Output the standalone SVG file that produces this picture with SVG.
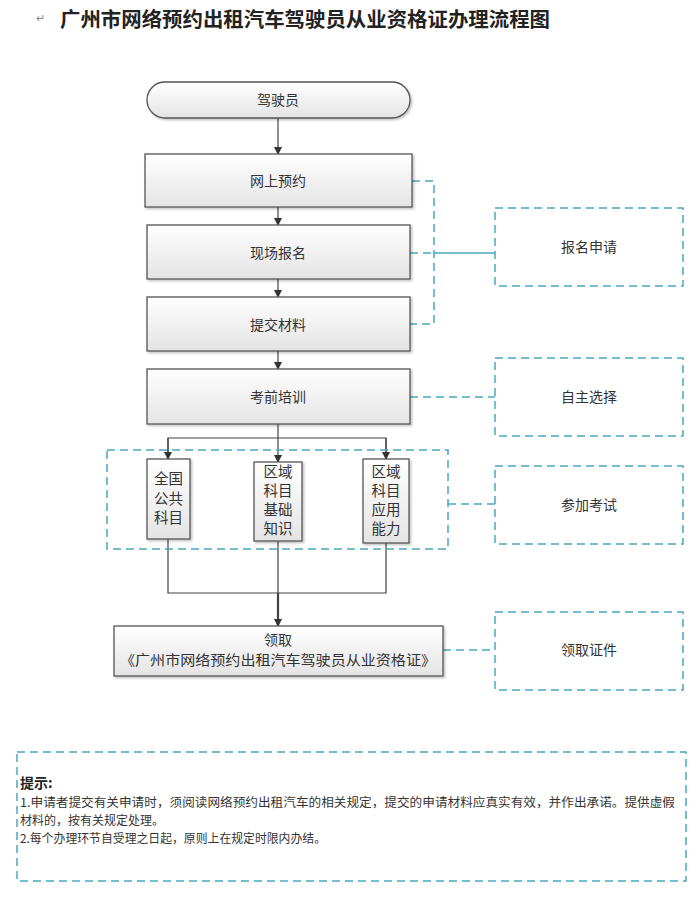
<svg xmlns="http://www.w3.org/2000/svg" width="700" height="900" viewBox="0 0 700 900">
<style>
.t{font-family:"Noto Sans CJK SC","Liberation Sans",sans-serif;fill:#333;}
.box{fill:url(#g);stroke:#555;stroke-width:1.3;filter:url(#sh);}
.dbox{fill:none;stroke:#4aa8c2;stroke-width:1.5;stroke-dasharray:8 5;}
.dl{fill:none;stroke:#4aa8c2;stroke-width:1.5;stroke-dasharray:8 5;}
.sl{fill:none;stroke:#4aa8c2;stroke-width:1.3;}
.ln{fill:none;stroke:#444;stroke-width:1.2;}
.ar{fill:none;stroke:#444;stroke-width:1.2;marker-end:url(#ah);}
</style>
<defs>
<linearGradient id="g" x1="0" y1="0" x2="0" y2="1">
<stop offset="0" stop-color="#ffffff"/>
<stop offset="1" stop-color="#e4e4e4"/>
</linearGradient>
<filter id="sh" x="-10%" y="-10%" width="125%" height="130%">
<feDropShadow dx="1.5" dy="1.5" stdDeviation="1" flood-color="#000" flood-opacity="0.25"/>
</filter>
<marker id="ah" markerWidth="8" markerHeight="8" refX="7" refY="4" orient="auto" markerUnits="userSpaceOnUse">
<path d="M0,0 L8,4 L0,8 z" fill="#333"/>
</marker>
</defs>
<rect width="700" height="900" fill="#fff"/>
<text x="36" y="22" class="t" font-size="11" fill="#888" style="fill:#888">↵</text>
<text x="60" y="27" class="t" font-size="20" font-weight="bold" textLength="490" lengthAdjust="spacingAndGlyphs" style="fill:#222">广州市网络预约出租汽车驾驶员从业资格证办理流程图</text>

<g id="connectors">
<line class="ar" x1="278" y1="118" x2="278" y2="154"/>
<line class="ar" x1="278" y1="207" x2="278" y2="225"/>
<line class="ar" x1="278" y1="279" x2="278" y2="297"/>
<line class="ar" x1="278" y1="351" x2="278" y2="369"/>
<line class="ln" x1="278" y1="424" x2="278" y2="438"/>
<polyline class="ln" points="168,459 168,438 386,438 386,459"/>
<line class="ar" x1="168" y1="438" x2="168" y2="459"/>
<line class="ar" x1="278" y1="438" x2="278" y2="462"/>
<line class="ar" x1="386" y1="438" x2="386" y2="459"/>
<polyline class="ln" points="168,539 168,593 386,593 386,543"/>
<line class="ln" x1="278" y1="541" x2="278" y2="593"/>
<line x1="278" y1="593" x2="278" y2="626" stroke="#444" stroke-width="2.2" marker-end="url(#ah)"/>
<polyline class="dl" points="412,181 434,181 434,324 410,324"/>
<line class="dl" x1="410" y1="253" x2="434" y2="253"/>
<line class="sl" x1="434" y1="253" x2="495" y2="253"/>
<line class="dl" x1="410" y1="397" x2="495" y2="397"/>
<polyline class="dl" points="448,504 495,504"/>
<line class="dl" x1="443" y1="650" x2="495" y2="650"/>
</g>

<g id="start">
<rect x="147" y="82" width="263" height="36" rx="18" class="box"/>
<text x="278" y="105" class="t" font-size="14" text-anchor="middle">驾驶员</text>
</g>
<g id="n1">
<rect x="145" y="154" width="267" height="53" class="box"/>
<text x="278" y="186" class="t" font-size="14" text-anchor="middle">网上预约</text>
</g>
<g id="n2">
<rect x="147" y="225" width="263" height="54" class="box"/>
<text x="278" y="258" class="t" font-size="14" text-anchor="middle">现场报名</text>
</g>
<g id="n3">
<rect x="147" y="297" width="263" height="54" class="box"/>
<text x="278" y="330" class="t" font-size="14" text-anchor="middle">提交材料</text>
</g>
<g id="n4">
<rect x="147" y="369" width="263" height="55" class="box"/>
<text x="278" y="402" class="t" font-size="14" text-anchor="middle">考前培训</text>
</g>
<g id="exam-group">
<rect x="107" y="450" width="341" height="99" class="dbox"/>
</g>
<g id="s1">
<rect x="147" y="459" width="43" height="80" class="box"/>
<text class="t" font-size="14.5" text-anchor="middle"><tspan x="168.5" y="484">全国</tspan><tspan x="168.5" y="504">公共</tspan><tspan x="168.5" y="523">科目</tspan></text>
</g>
<g id="s2">
<rect x="254" y="462" width="48" height="79" class="box"/>
<text class="t" font-size="14.5" text-anchor="middle"><tspan x="278" y="477">区域</tspan><tspan x="278" y="496">科目</tspan><tspan x="278" y="515">基础</tspan><tspan x="278" y="534">知识</tspan></text>
</g>
<g id="s3">
<rect x="363" y="459" width="46" height="84" class="box"/>
<text class="t" font-size="14.5" text-anchor="middle"><tspan x="386" y="477">区域</tspan><tspan x="386" y="496">科目</tspan><tspan x="386" y="515">应用</tspan><tspan x="386" y="534">能力</tspan></text>
</g>
<g id="n5">
<rect x="114" y="626" width="329" height="50" class="box"/>
<text x="278" y="645" class="t" font-size="14" text-anchor="middle">领取</text>
<text x="278" y="665" class="t" font-size="14" text-anchor="middle" textLength="316" lengthAdjust="spacingAndGlyphs">《广州市网络预约出租汽车驾驶员从业资格证》</text>
</g>
<g id="r1">
<rect x="495" y="208" width="188" height="78" class="dbox"/>
<text x="589" y="252" class="t" font-size="14" text-anchor="middle">报名申请</text>
</g>
<g id="r2">
<rect x="495" y="358" width="188" height="78" class="dbox"/>
<text x="589" y="402" class="t" font-size="14" text-anchor="middle">自主选择</text>
</g>
<g id="r3">
<rect x="495" y="466" width="188" height="78" class="dbox"/>
<text x="589" y="510" class="t" font-size="14" text-anchor="middle">参加考试</text>
</g>
<g id="r4">
<rect x="495" y="612" width="188" height="78" class="dbox"/>
<text x="589" y="655" class="t" font-size="14" text-anchor="middle">领取证件</text>
</g>
<g id="notes">
<rect x="17" y="752" width="669" height="129" class="dbox"/>
<text x="20" y="788" class="t" font-size="14" font-weight="bold" style="fill:#222">提示:</text>
<text x="20" y="807" class="t" font-size="12" textLength="655" lengthAdjust="spacingAndGlyphs">1.申请者提交有关申请时，须阅读网络预约出租汽车的相关规定，提交的申请材料应真实有效，并作出承诺。提供虚假</text>
<text x="20" y="825" class="t" font-size="12">材料的，按有关规定处理。</text>
<text x="20" y="843" class="t" font-size="12" textLength="306" lengthAdjust="spacingAndGlyphs">2.每个办理环节自受理之日起，原则上在规定时限内办结。</text>
</g>
</svg>
